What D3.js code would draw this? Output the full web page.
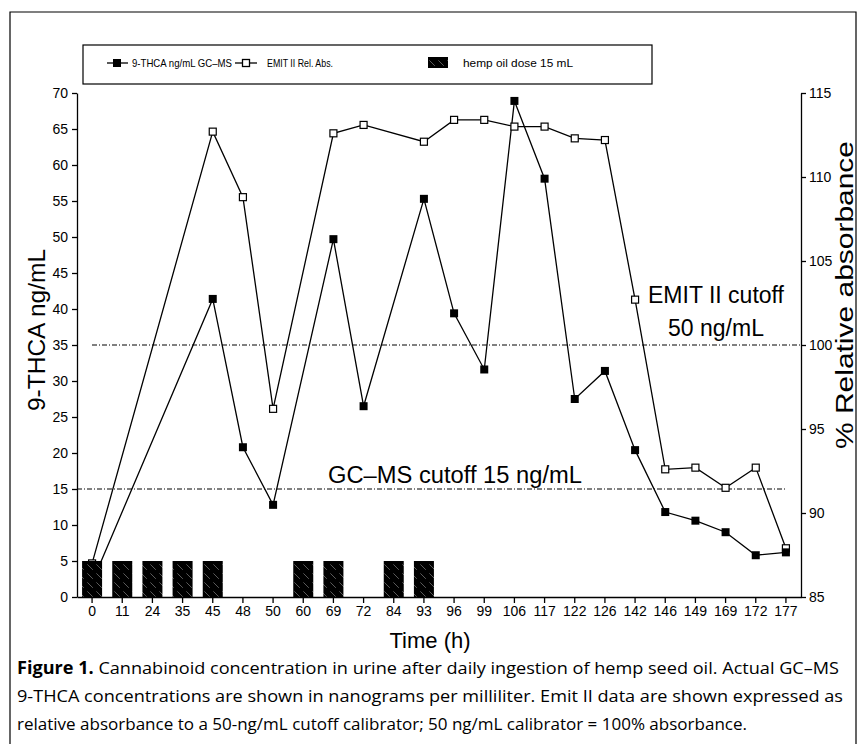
<!DOCTYPE html>
<html>
<head>
<meta charset="utf-8">
<script src="https://cdn.jsdelivr.net/npm/d3@7"></script>
<style>
  body { margin: 0; background: #fff; }
  svg { display: block; font-family: "Liberation Sans", Arial, sans-serif; }
  .axis path, .axis line { stroke: #000; stroke-width: 1.3; }
  .axis text { font-size: 14px; fill: #000; }
</style>
</head>
<body>
<svg width="861" height="744"></svg>
<script>
// sampling times (h) – every one gets a tick
const hours = [0, 11, 24, 35, 45, 48, 50, 60, 69, 72, 84, 93, 96, 99, 106, 117, 122, 126, 142, 146, 149, 169, 172, 177];
// 9-THCA by GC-MS, ng/mL (null = not sampled)
const gcms = [2, null, null, null, 41.4, 20.8, 12.8, null, 49.7, 26.5, null, 55.3, 39.4, 31.6, 68.9, 58.1, 27.5, 31.4, 20.4, 11.8, 10.6, 9.0, 5.8, 6.2];
// EMIT II relative absorbance, %
const emit = [87, null, null, null, 112.7, 108.8, 96.2, null, 112.6, 113.1, null, 112.1, 113.4, 113.4, 113.0, 113.0, 112.3, 112.2, 102.7, 92.6, 92.7, 91.5, 92.7, 87.9];
// hemp oil doses (drawn as 5-unit blocks on the left axis)
const doseHours = [0, 11, 24, 35, 45, 60, 69, 84, 93];
const doseHeight = 5;
const leftTicks = [0, 5, 10, 15, 20, 25, 30, 35, 40, 45, 50, 55, 60, 65, 70];
const rightTicks = [85, 90, 95, 100, 105, 110, 115];
const cutoffGC = 15;
const cutoffEmit = 100;

let svg = d3.select('svg');
let plotL = 77, plotR = 801, plotT = 93, plotB = 597;

let x = d3.scaleBand()
          .domain(hours)
          .range([plotL, plotR])
          .paddingInner(0.337)
          .paddingOuter(0.337 / 2);
let cx = h => x(h) + x.bandwidth() / 2;

let yL = d3.scaleLinear().domain([0, 70]).range([plotB, plotT]);
let yR = d3.scaleLinear().domain([85, 115]).range([plotB, plotT]);

// hatch for the dose blocks: black with a few white diagonal strokes
let defs = svg.append('defs');
let pat = defs.append('pattern')
              .attr('id', 'hatch')
              .attr('patternUnits', 'userSpaceOnUse')
              .attr('width', 9)
              .attr('height', 9);
pat.append('rect').attr('width', 9).attr('height', 9).attr('fill', '#000');
pat.append('path')
   .attr('d', 'M0,0 L9,9')
   .attr('stroke', '#fff')
   .attr('stroke-width', 0.6)
   .attr('stroke-dasharray', '4,5')
   .attr('opacity', 0.6);

// outer frame
svg.append('path')
    .attr('d', 'M10,744 V12 H856 V744')
    .attr('fill', 'none')
    .attr('stroke', '#000')
    .attr('stroke-width', 1.2);

// legend
let lg = svg.append('g');
lg.append('rect')
  .attr('x', 83).attr('y', 45)
  .attr('width', 569).attr('height', 39)
  .attr('fill', 'none').attr('stroke', '#000').attr('stroke-width', 1.2);
lg.append('line').attr('x1', 107).attr('x2', 128).attr('y1', 63).attr('y2', 63).attr('stroke', '#000').attr('stroke-width', 1.3);
lg.append('rect').attr('x', 113).attr('y', 59).attr('width', 8).attr('height', 8).attr('fill', '#000');
lg.append('text').attr('x', 132).attr('y', 67).attr('font-size', 11.5)
  .attr('textLength', 100).attr('lengthAdjust', 'spacingAndGlyphs').text('9-THCA ng/mL GC–MS');
lg.append('line').attr('x1', 235).attr('x2', 257).attr('y1', 63).attr('y2', 63).attr('stroke', '#000').attr('stroke-width', 1.3);
lg.append('rect').attr('x', 242.5).attr('y', 59.5).attr('width', 7).attr('height', 7).attr('fill', '#fff').attr('stroke', '#000').attr('stroke-width', 1.3);
lg.append('text').attr('x', 267).attr('y', 67).attr('font-size', 11.5)
  .attr('textLength', 66).attr('lengthAdjust', 'spacingAndGlyphs').text('EMIT II Rel. Abs.');
lg.append('rect').attr('x', 428).attr('y', 57).attr('width', 20).attr('height', 11).attr('fill', 'url(#hatch)');
lg.append('text').attr('x', 463).attr('y', 67).attr('font-size', 11.5)
  .attr('textLength', 110).attr('lengthAdjust', 'spacingAndGlyphs').text('hemp oil dose 15 mL');

// cutoff lines
svg.append('line')
    .attr('x1', 92).attr('x2', plotR)
    .attr('y1', yR(cutoffEmit)).attr('y2', yR(cutoffEmit))
    .attr('stroke', '#000').attr('stroke-width', 1)
    .attr('stroke-dasharray', '5,2,1,2');
svg.append('line')
    .attr('x1', plotL).attr('x2', 785)
    .attr('y1', yL(cutoffGC)).attr('y2', yL(cutoffGC))
    .attr('stroke', '#000').attr('stroke-width', 1)
    .attr('stroke-dasharray', '5,2,1,2');

svg.append('text')
    .attr('x', 716).attr('y', 303)
    .attr('font-size', 23).attr('text-anchor', 'middle')
    .text('EMIT II cutoff');
svg.append('text')
    .attr('x', 716).attr('y', 336)
    .attr('font-size', 23).attr('text-anchor', 'middle')
    .text('50 ng/mL');
svg.append('text')
    .attr('x', 328).attr('y', 483)
    .attr('font-size', 23)
    .attr('textLength', 254).attr('lengthAdjust', 'spacingAndGlyphs')
    .text('GC–MS cutoff 15 ng/mL');

// series
let gcData = hours.map((h, i) => ({h: h, v: gcms[i]})).filter(d => d.v != null);
let emData = hours.map((h, i) => ({h: h, v: emit[i]})).filter(d => d.v != null);

svg.append('path')
    .datum(emData)
    .attr('fill', 'none').attr('stroke', '#000').attr('stroke-width', 1.3)
    .attr('d', d3.line().x(d => cx(d.h)).y(d => yR(d.v)));
svg.append('path')
    .datum(gcData)
    .attr('fill', 'none').attr('stroke', '#000').attr('stroke-width', 1.3)
    .attr('d', d3.line().x(d => cx(d.h)).y(d => yL(d.v)));

svg.selectAll('.em')
    .data(emData)
    .enter()
    .append('rect')
    .attr('class', 'em')
    .attr('x', d => cx(d.h) - 3.5)
    .attr('y', d => yR(d.v) - 3.5)
    .attr('width', 7).attr('height', 7)
    .attr('fill', '#fff').attr('stroke', '#000').attr('stroke-width', 1.2);

svg.selectAll('.gc')
    .data(gcData)
    .enter()
    .append('rect')
    .attr('class', 'gc')
    .attr('x', d => cx(d.h) - 4)
    .attr('y', d => yL(d.v) - 4)
    .attr('width', 8).attr('height', 8)
    .attr('fill', '#000');

// dose blocks
svg.selectAll('.dose')
    .data(doseHours)
    .enter()
    .append('rect')
    .attr('class', 'dose')
    .attr('x', d => x(d))
    .attr('y', yL(doseHeight))
    .attr('width', x.bandwidth())
    .attr('height', yL(0) - yL(doseHeight))
    .attr('fill', 'url(#hatch)');

// axes
svg.append('g')
    .attr('class', 'axis')
    .attr('transform', `translate(0,${plotB})`)
    .call(d3.axisBottom(x).tickSize(6).tickPadding(3).tickSizeOuter(0));

svg.append('g')
    .attr('class', 'axis')
    .attr('transform', `translate(${plotL},0)`)
    .call(d3.axisLeft(yL).tickValues(leftTicks).tickSize(5).tickPadding(4).tickSizeOuter(0));

svg.append('g')
    .attr('class', 'axis')
    .attr('transform', `translate(${plotR},0)`)
    .call(d3.axisRight(yR).tickValues(rightTicks).tickSize(5).tickPadding(3).tickSizeOuter(0));

// axis titles
svg.append('text')
    .attr('x', 430).attr('y', 648)
    .attr('font-size', 22).attr('text-anchor', 'middle')
    .text('Time (h)');
svg.append('text')
    .attr('transform', 'translate(45,330) rotate(-90)')
    .attr('font-size', 24).attr('text-anchor', 'middle')
    .attr('textLength', 162).attr('lengthAdjust', 'spacingAndGlyphs')
    .text('9-THCA ng/mL');
svg.append('text')
    .attr('transform', 'translate(853,295) rotate(-90)')
    .attr('font-size', 23).attr('text-anchor', 'middle')
    .attr('textLength', 308).attr('lengthAdjust', 'spacingAndGlyphs')
    .text('% Relative absorbance');

// caption
let caption = [
  ['Figure 1.', ' Cannabinoid concentration in urine after daily ingestion of hemp seed oil. Actual GC–MS', 822],
  ['', '9-THCA concentrations are shown in nanograms per milliliter. Emit II data are shown expressed as', 826],
  ['', 'relative absorbance to a 50-ng/mL cutoff calibrator; 50 ng/mL calibrator = 100% absorbance.', 730]
];
caption.forEach((c, i) => {
  let t = svg.append('text')
             .attr('x', 17).attr('y', 674 + i * 28)
             .attr('font-family', '"Open Sans", "Noto Sans", sans-serif')
             .attr('font-size', 17)
             .attr('textLength', c[2]).attr('lengthAdjust', 'spacingAndGlyphs');
  if (c[0]) t.append('tspan').attr('font-weight', 'bold').text(c[0]);
  t.append('tspan').text(c[1]);
});
</script>
</body>
</html>
